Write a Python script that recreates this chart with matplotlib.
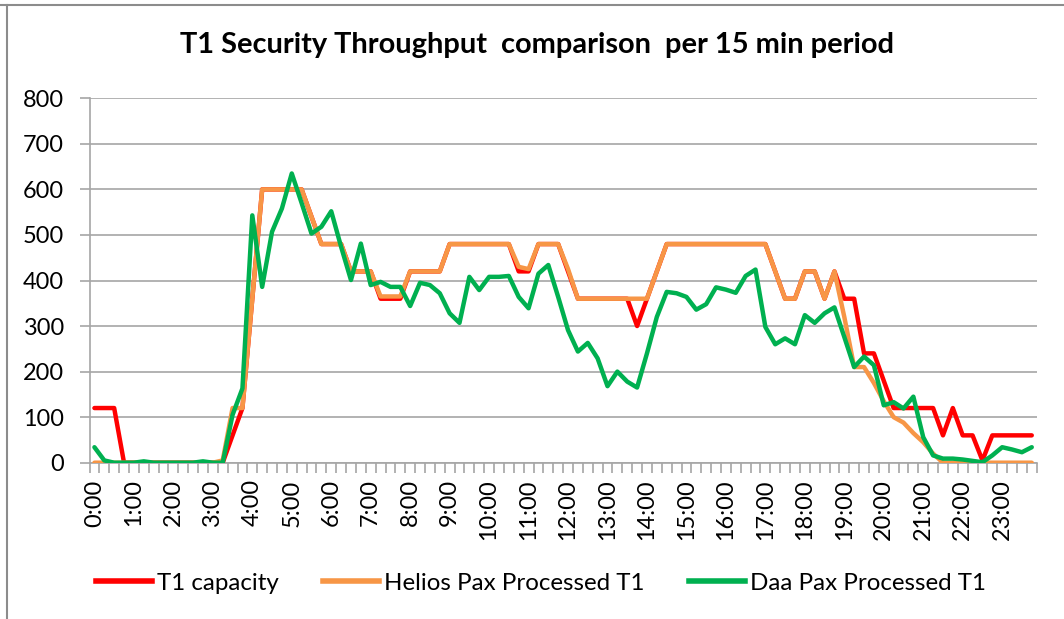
import matplotlib
matplotlib.use("Agg")
import matplotlib.pyplot as plt
from matplotlib.lines import Line2D
from matplotlib.textpath import TextPath
from matplotlib.font_manager import FontProperties
import numpy as np

plt.rcParams['font.family'] = ['Lato', 'DejaVu Sans']

# 96 quarter-hour periods
hour_labels = [f"{h}:00" for h in range(24)]

capacity = [120, 120, 120, 0, 0, 0, 0, 0, 0, 0, 0, 0, 0, 0,
            60, 120, 360, 600, 600, 600, 600, 600, 540, 480, 480, 480,
            420, 420, 420, 360, 360, 360, 420, 420, 420, 420,
            480, 480, 480, 480, 480, 480, 480, 420, 420, 480, 480, 480,
            420, 360, 360, 360, 360, 360, 360, 300, 360, 420,
            480, 480, 480, 480, 480, 480, 480, 480, 480, 480, 480,
            420, 360, 360, 420, 420, 360, 420, 360, 360, 240, 240, 180,
            120, 120, 120, 120, 120, 60, 120, 60, 60, 5, 60, 60, 60, 60, 60]

helios = [0, 0, 0, 0, 0, 0, 0, 0, 0, 0, 0, 0, 0, 5,
          120, 120, 360, 600, 600, 600, 600, 600, 540, 480, 480, 480,
          420, 420, 420, 365, 365, 365, 420, 420, 420, 420,
          480, 480, 480, 480, 480, 480, 480, 430, 425, 480, 480, 480,
          425, 360, 360, 360, 360, 360, 360, 360, 360, 420,
          480, 480, 480, 480, 480, 480, 480, 480, 480, 480, 480,
          420, 360, 360, 420, 420, 360, 420, 320, 210, 210, 175, 135,
          100, 88, 65, 45, 20, 0, 0, 0, 0, 0, 0, 0, 0, 0, 0]

daa = [34, 5, 0, 0, 0, 3, 0, 0, 0, 0, 0, 3, 0, 0,
       105, 163, 543, 386, 507, 558, 635, 570, 503, 518, 552, 474,
       401, 481, 390, 397, 386, 386, 344, 395, 390, 372,
       328, 307, 408, 379, 408, 408, 410, 364, 339, 415, 434, 364,
       291, 244, 263, 229, 168, 200, 178, 165, 240, 320,
       375, 372, 364, 336, 348, 385, 380, 373, 410, 424, 298,
       260, 273, 260, 324, 307, 328, 341, 276, 210, 233, 214, 126,
       133, 119, 145, 56, 16, 9, 9, 7, 4, 1, 16, 34, 29, 23, 34]

series_names = ["T1 capacity", "Helios Pax Processed T1", "Daa Pax Processed T1"]
colors = ["#FF0000", "#F79646", "#00B050"]

W, H = 1064, 619
DPI = 100


def fit_size(text, target_px, weight='normal'):
    """font size (pt) so that text is about target_px wide at DPI."""
    fp = FontProperties(family='Lato', weight=weight, size=10)
    tp = TextPath((0, 0), text, prop=fp)
    w_px = tp.get_extents().width * DPI / 72.0
    return 10 * target_px / w_px


title_fs = fit_size("T1 Security Throughput  comparison  per 15 min period", 712, 'bold')
legend_fs = fit_size("Helios Pax Processed T1", 257)
tick_fs = fit_size("800", 39)

fig = plt.figure(figsize=(W / DPI, H / DPI), dpi=DPI)
ax = fig.add_axes([89.5 / W, 1 - 462.7 / H, (1036.7 - 89.5) / W, (462.7 - 98.3) / H])

x = np.arange(len(capacity))
for data, c, name in zip([capacity, helios, daa], colors, series_names):
    ax.plot(x, data, color=c, lw=3.2, solid_joinstyle='round', solid_capstyle='round',
            label=name, zorder=3)

ax.set_xlim(-0.5, len(capacity) - 0.5)
ax.set_ylim(0, 800)
ax.set_yticks(range(0, 801, 100))
grid_col = "#A6A6A6"
ax.yaxis.grid(True, color=grid_col, lw=1.2)
ax.set_axisbelow(True)

for s in ["top", "right"]:
    ax.spines[s].set_visible(False)
for s in ["left", "bottom"]:
    ax.spines[s].set_color(grid_col)
    ax.spines[s].set_linewidth(1.2)

ax.set_xticks(np.arange(0, len(capacity), 4))
ax.set_xticklabels(hour_labels, rotation=90, fontsize=tick_fs)
ax.set_xticks(np.arange(-0.5, len(capacity), 1), minor=True)
ax.tick_params(axis='x', which='major', length=0, pad=12)
ax.tick_params(axis='x', which='minor', length=7, width=1.2, color=grid_col, direction='out')
ax.tick_params(axis='y', length=7, width=1.2, color=grid_col, pad=11.5, labelsize=tick_fs)

fig.text(537 / W, 1 - 45 / H, "T1 Security Throughput  comparison  per 15 min period",
         ha='center', va='center', fontsize=title_fs, fontweight='bold')

handles = [Line2D([], [], color=c, lw=4) for c in colors]
fig.legend(handles, series_names, loc='center', bbox_to_anchor=(541 / W, 1 - 583 / H),
           ncol=3, frameon=False, fontsize=legend_fs, handlelength=2.3, handletextpad=0.2,
           columnspacing=1.85)

# outer chart-area border (top and left visible)
fig.add_artist(Line2D([0, 1], [1 - 5 / H, 1 - 5 / H], transform=fig.transFigure,
                      color="#8C8C8C", lw=1.5))
fig.add_artist(Line2D([6.5 / W, 6.5 / W], [0, 1 - 5 / H], transform=fig.transFigure,
                      color="#8C8C8C", lw=1.5))

fig.savefig("out.png", dpi=DPI)
